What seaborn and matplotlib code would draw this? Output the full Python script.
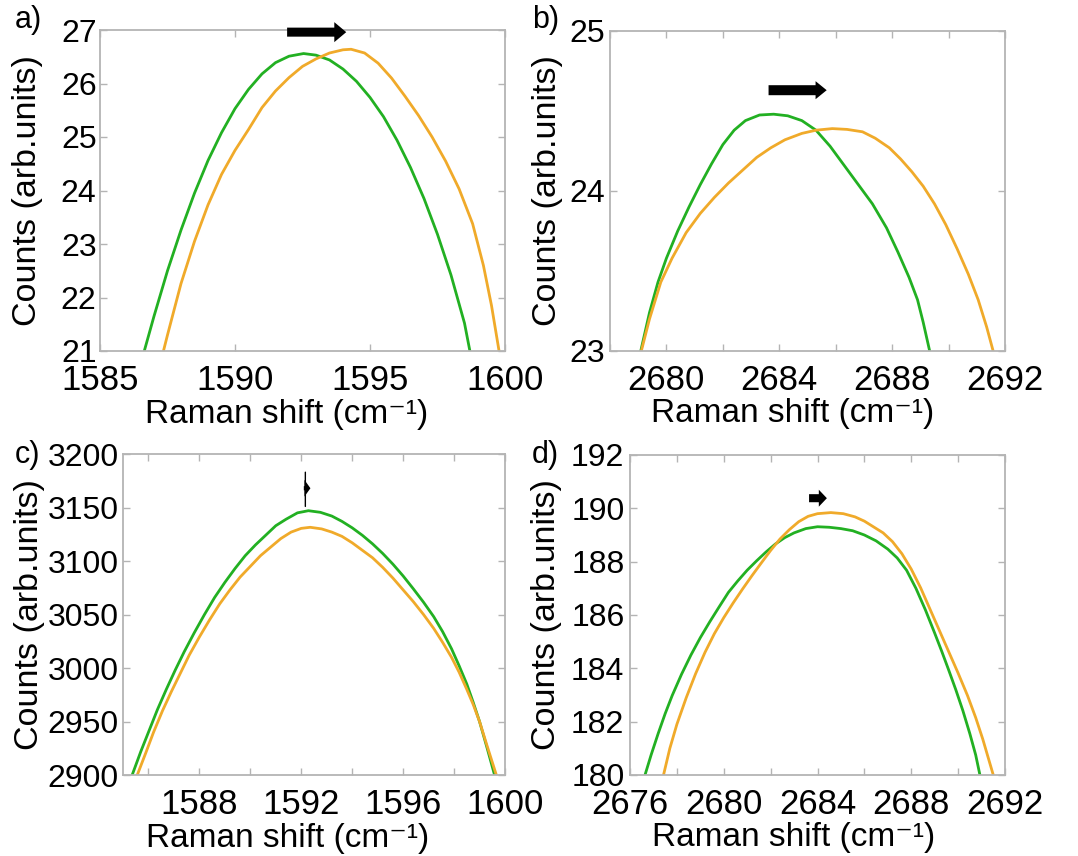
import matplotlib
matplotlib.use("Agg")
import matplotlib.pyplot as plt
import seaborn as sns
import pandas as pd
from matplotlib.ticker import MultipleLocator

# ---------------- data ----------------
# panel a) G band, sample 1
a_green_x = [1586.64, 1587.0, 1587.5, 1588.0, 1588.5, 1589.0, 1589.5, 1590.0, 1590.5, 1591.0,
             1591.5, 1592.0, 1592.54, 1593.0, 1593.5, 1594.0, 1594.5, 1595.0, 1595.5, 1596.0,
             1596.5, 1597.0, 1597.5, 1598.0, 1598.5, 1598.7]
a_green_y = [21.0, 21.65, 22.5, 23.26, 23.95, 24.56, 25.08, 25.53, 25.89, 26.18,
             26.39, 26.51, 26.56, 26.53, 26.44, 26.27, 26.04, 25.74, 25.38, 24.94,
             24.43, 23.85, 23.18, 22.42, 21.52, 21.0]
a_orange_x = [1587.35, 1587.5, 1588.0, 1588.5, 1589.0, 1589.5, 1590.0, 1590.5, 1591.0, 1591.5,
              1592.0, 1592.5, 1593.0, 1593.5, 1594.0, 1594.3, 1594.8, 1595.3, 1595.8, 1596.3,
              1596.8, 1597.3, 1597.8, 1598.3, 1598.8, 1599.2, 1599.5, 1599.78]
a_orange_y = [21.0, 21.3, 22.26, 23.05, 23.73, 24.3, 24.75, 25.14, 25.55, 25.86,
              26.11, 26.32, 26.46, 26.57, 26.63, 26.64, 26.57, 26.38, 26.1, 25.76,
              25.4, 25.0, 24.55, 24.03, 23.38, 22.6, 21.85, 21.0]

# panel b) 2D band, sample 1
b_green_x = [2679.09, 2679.4, 2679.7, 2680.0, 2680.4, 2680.8, 2681.2, 2681.6, 2682.0, 2682.4,
             2682.8, 2683.3, 2683.8, 2684.3, 2684.8, 2685.3, 2685.8, 2686.3, 2686.8, 2687.3,
             2687.8, 2688.2, 2688.6, 2688.9, 2689.1, 2689.33]
b_green_y = [23.0, 23.24, 23.43, 23.58, 23.75, 23.9, 24.04, 24.17, 24.29, 24.38,
             24.44, 24.475, 24.48, 24.47, 24.44, 24.38, 24.28, 24.16, 24.04, 23.92,
             23.77, 23.62, 23.46, 23.32, 23.18, 23.0]
b_orange_x = [2679.11, 2679.4, 2679.8, 2680.2, 2680.7, 2681.2, 2681.7, 2682.2, 2682.7, 2683.2,
              2683.7, 2684.2, 2684.8, 2685.3, 2685.88, 2686.4, 2686.95, 2687.4, 2687.9, 2688.3,
              2688.7, 2689.1, 2689.5, 2689.9, 2690.3, 2690.7, 2691.05, 2691.35, 2691.58]
b_orange_y = [23.0, 23.2, 23.43, 23.58, 23.74, 23.86, 23.96, 24.05, 24.13, 24.21,
              24.27, 24.32, 24.36, 24.38, 24.39, 24.385, 24.37, 24.33, 24.27, 24.2,
              24.12, 24.03, 23.92, 23.79, 23.64, 23.48, 23.32, 23.15, 23.0]

# panel c) G band, sample 2
c_green_x = [1585.36, 1585.7, 1586.0, 1586.35, 1586.7, 1587.05, 1587.4, 1587.8, 1588.2, 1588.6,
             1589.0, 1589.4, 1589.8, 1590.2, 1590.6, 1591.0, 1591.4, 1591.85, 1592.28, 1592.75,
             1593.2, 1593.6, 1594.0, 1594.4, 1594.8, 1595.2, 1595.6, 1596.0, 1596.4, 1596.8,
             1597.2, 1597.55, 1597.9, 1598.2, 1598.5, 1598.75, 1599.0, 1599.3, 1599.59]
c_green_y = [2900, 2922, 2940, 2961, 2980, 2998, 3015, 3033, 3050, 3066,
             3080, 3093, 3105, 3115, 3124, 3133, 3139, 3145, 3147, 3145.5,
             3142, 3137, 3131, 3124, 3116, 3107, 3097, 3086, 3074, 3061.5,
             3048, 3034, 3018, 3002, 2985, 2968, 2950, 2925, 2900]
c_orange_x = [1585.56, 1585.9, 1586.2, 1586.55, 1586.9, 1587.25, 1587.6, 1588.0, 1588.4, 1588.8,
              1589.2, 1589.6, 1590.0, 1590.4, 1590.8, 1591.2, 1591.6, 1592.0, 1592.35, 1592.8,
              1593.2, 1593.6, 1594.0, 1594.4, 1594.8, 1595.2, 1595.6, 1596.0, 1596.4, 1596.8,
              1597.2, 1597.55, 1597.9, 1598.2, 1598.5, 1598.75, 1599.0, 1599.3, 1599.66]
c_orange_y = [2900, 2921, 2940, 2960, 2978, 2995, 3012, 3029, 3045, 3060,
              3073, 3085, 3095, 3105, 3113, 3121, 3127, 3130.5, 3131.5, 3130,
              3127, 3123, 3117, 3110, 3103, 3094, 3084, 3073, 3062, 3050,
              3037, 3024, 3010, 2996, 2980, 2966, 2950, 2927, 2900]

# panel d) 2D band, sample 2
d_green_x = [2676.64, 2676.9, 2677.2, 2677.5, 2677.8, 2678.2, 2678.6, 2679.0, 2679.4, 2679.8,
             2680.2, 2680.6, 2681.0, 2681.4, 2681.8, 2682.2, 2682.6, 2683.0, 2683.5, 2684.0,
             2684.5, 2685.0, 2685.5, 2686.0, 2686.5, 2687.0, 2687.4, 2687.8, 2688.2, 2688.6,
             2689.0, 2689.3, 2689.6, 2689.9, 2690.2, 2690.5, 2690.75, 2690.93]
d_green_y = [180.0, 180.75, 181.55, 182.3, 182.98, 183.78, 184.5, 185.15, 185.74, 186.3,
             186.85, 187.28, 187.68, 188.03, 188.36, 188.66, 188.9, 189.08, 189.24, 189.31,
             189.29, 189.24, 189.16, 189.0, 188.78, 188.47, 188.14, 187.68, 187.0, 186.2,
             185.32, 184.64, 183.93, 183.2, 182.42, 181.55, 180.75, 180.0]
d_orange_x = [2677.43, 2677.7, 2678.0, 2678.4, 2678.8, 2679.2, 2679.6, 2680.0, 2680.4, 2680.8,
              2681.2, 2681.6, 2682.0, 2682.4, 2682.8, 2683.2, 2683.6, 2684.0, 2684.57, 2685.1,
              2685.6, 2686.0, 2686.4, 2686.8, 2687.2, 2687.6, 2688.0, 2688.4, 2688.8, 2689.2,
              2689.6, 2690.0, 2690.4, 2690.75, 2691.05, 2691.3, 2691.5]
d_orange_y = [180.0, 181.0, 181.9, 182.9, 183.8, 184.6, 185.3, 185.9, 186.45, 186.97,
              187.47, 187.95, 188.42, 188.85, 189.2, 189.5, 189.7, 189.8, 189.84, 189.8,
              189.68, 189.52, 189.3, 189.08, 188.75, 188.3, 187.72, 187.02, 186.22, 185.42,
              184.62, 183.82, 182.98, 182.15, 181.35, 180.6, 180.0]

series_names = ["green", "orange"]
panel_letters = ["a)", "b)", "c)", "d)"]
x_label = "Raman shift (cm\u207b\u00b9)"
y_label = "Counts (arb.units)"

GREEN = "#22b022"
ORANGE = "#f0aa2a"
SPINE = "#b4b4b4"

sns.set_theme(style="white")
plt.rcParams["font.family"] = ["Liberation Sans", "DejaVu Sans"]

fig = plt.figure(figsize=(10.78, 8.56), dpi=100)
W, H = 1078.0, 856.0


def rect(l, t, r, b):
    return [l / W, 1 - b / H, (r - l) / W, (b - t) / H]


panels = [
    dict(rect=rect(100, 30, 505, 351), xlim=(1585, 1600), ylim=(21, 27),
         xmaj=5, xmin=5, ymaj=1,
         gx=a_green_x, gy=a_green_y, ox=a_orange_x, oy=a_orange_y,
         arrows=[(1591.93, 1594.12, 26.96, 6.5, 14.4, 8.6)],
         ylc=-0.14, xlc=0.46, letter=(15, 5), ypad=2.5),
    dict(rect=rect(610, 31, 1005, 351), xlim=(2678, 2692), ylim=(23, 25),
         xmaj=4, xmin=2, ymaj=1,
         gx=b_green_x, gy=b_green_y, ox=b_orange_x, oy=b_orange_y,
         arrows=[(2683.62, 2685.68, 24.63, 7.2, 13.0, 8.0)],
         ylc=-0.12, xlc=0.463, letter=(532, 5), ypad=3.5),
    dict(rect=rect(123, 454, 505, 775), xlim=(1585, 1600), ylim=(2900, 3200),
         xmaj=4, xmin=2, ymaj=50,
         gx=c_green_x, gy=c_green_y, ox=c_orange_x, oy=c_orange_y,
         arrows=[(1592.1, 1592.36, 3168, 3.0, 12.0, 4.3)],
         ylc=-0.205, xlc=0.43, letter=(15, 440), ypad=3),
    dict(rect=rect(630, 455, 1005, 775), xlim=(2676, 2692), ylim=(180, 192),
         xmaj=4, xmin=2, ymaj=2,
         gx=d_green_x, gy=d_green_y, ox=d_orange_x, oy=d_orange_y,
         arrows=[(2683.64, 2684.4, 190.38, 5.8, 12.2, 5.8)],
         ylc=-0.182, xlc=0.435, letter=(532, 440), ypad=4),
]

for i, p in enumerate(panels):
    ax = fig.add_axes(p["rect"])
    df = pd.DataFrame({
        "shift": list(p["gx"]) + list(p["ox"]),
        "counts": list(p["gy"]) + list(p["oy"]),
        "sample": [series_names[0]] * len(p["gx"]) + [series_names[1]] * len(p["ox"]),
    })
    sns.lineplot(data=df, x="shift", y="counts", hue="sample", sort=False,
                 estimator=None, palette={"green": GREEN, "orange": ORANGE},
                 linewidth=2.0, legend=False, ax=ax)
    ax.set_xlim(*p["xlim"])
    ax.set_ylim(*p["ylim"])
    ax.xaxis.set_major_locator(MultipleLocator(p["xmaj"]))
    ax.xaxis.set_minor_locator(MultipleLocator(p["xmin"]))
    ax.yaxis.set_major_locator(MultipleLocator(p["ymaj"]))
    ax.tick_params(which="both", direction="in", top=True, right=True, bottom=True, left=True,
                   length=5, width=1.0, color=SPINE, labelcolor="black")
    ax.tick_params(axis="x", pad=9.5, labelsize=25)
    ax.tick_params(axis="y", pad=p["ypad"], labelsize=23)
    for s in ax.spines.values():
        s.set_color(SPINE)
        s.set_linewidth(1.3)
    ax.set_xlabel(x_label, fontsize=24, color="black")
    ax.set_ylabel(y_label, fontsize=24.5, color="black")
    ax.xaxis.set_label_coords(p["xlc"], -0.148)
    ax.yaxis.set_label_coords(p["ylc"], 0.5)
    for (x0, x1, y, tw, hw, hl) in p["arrows"]:
        ax.annotate("", xy=(x1, y), xytext=(x0, y),
                    arrowprops=dict(arrowstyle=f"simple,head_length={hl},head_width={hw},tail_width={tw}",
                                    mutation_scale=1, shrinkA=0, shrinkB=0,
                                    color="black", lw=0))
    if i == 2:
        xm = p["arrows"][0][0] + 0.06
        ax.annotate("", xy=(xm, 3151), xytext=(xm, 3183),
                    arrowprops=dict(arrowstyle="-", color="black", lw=1.0,
                                    shrinkA=0, shrinkB=0))
    fig.text(p["letter"][0] / W, 1 - p["letter"][1] / H, panel_letters[i],
             fontsize=22, ha="left", va="top", color="black")

fig.savefig("out.png", dpi=100)
